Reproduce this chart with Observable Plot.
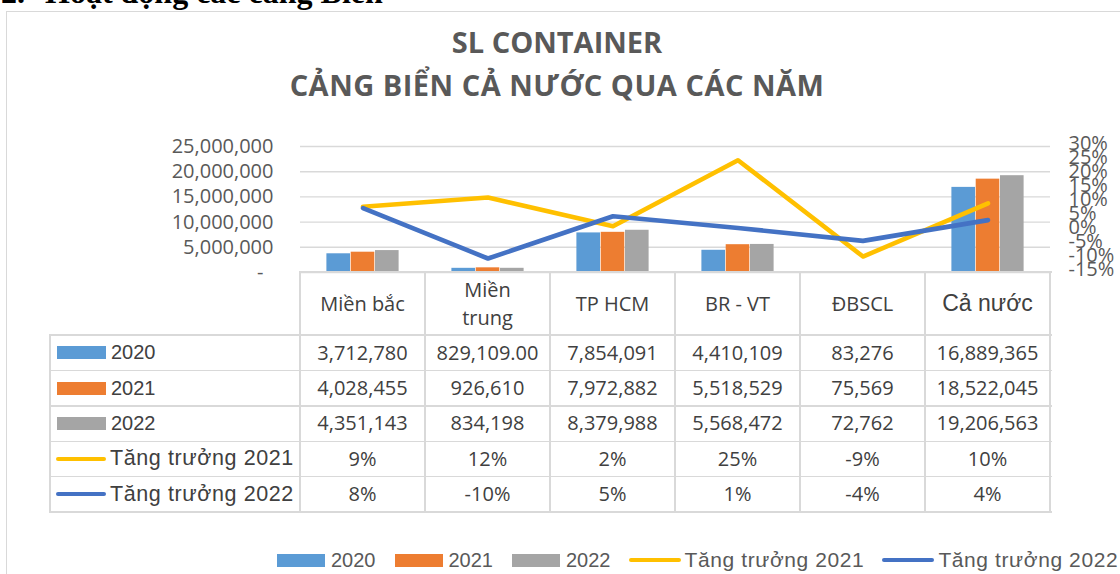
<!DOCTYPE html>
<html>
<head>
<meta charset="utf-8">
<script src="https://cdn.jsdelivr.net/npm/d3@7"></script>
<script src="https://cdn.jsdelivr.net/npm/@observablehq/plot@0.6"></script>
<style>
  html, body { margin: 0; padding: 0; background: #fff; }
  body { width: 1120px; height: 574px; overflow: hidden; position: relative; }
  #heading { position: absolute; left: 1px; top: -24px; font: bold 32px/32px "Liberation Serif", serif; color: #000; white-space: nowrap; }
  #frame { position: absolute; left: 6px; top: 11px; width: 1300px; height: 800px; border: 1px solid #d9d9d9; box-sizing: border-box; }
  #title { position: absolute; left: 0; top: 20px; width: 1114px; text-align: center; font: bold 29px/43px "Open Sans", sans-serif; color: #595959; white-space: nowrap; }
  #title .l2 { letter-spacing: 0.5px; }
  #chart { position: absolute; left: 0; top: 120px; }
  #chart svg { overflow: visible; }
  .hl { position: absolute; height: 1.5px; background: #d9d9d9; }
  .vl { position: absolute; width: 1.5px; background: #d9d9d9; }
  .cell { position: absolute; display: flex; align-items: center; justify-content: center; text-align: center; font: 20px/28px "Open Sans", sans-serif; color: #404040; white-space: nowrap; }
  .rowlab { position: absolute; display: flex; align-items: center; font: 20px "Liberation Sans", Arial, sans-serif; color: #404040; white-space: nowrap; }
  .sw { display: inline-block; width: 49px; height: 13px; margin-right: 5px; }
  .ln { display: inline-block; width: 50px; height: 4px; border-radius: 2px; margin-left: -1px; margin-right: 4px; }
  .big { font-size: 21.5px; letter-spacing: 0.6px; }
  #legend { position: absolute; left: 277px; top: 548px; height: 24px; display: flex; align-items: center; font: 20px "Liberation Sans", Arial, sans-serif; color: #595959; white-space: nowrap; }
  #legend .item { display: flex; align-items: center; margin-right: 19px; }
</style>
</head>
<body>
<div id="heading"><span>2.</span><span style="position:absolute;left:44px">Hoạt động các cảng Biển</span></div>
<div id="frame"></div>
<div id="title">SL CONTAINER<br><span class="l2">CẢNG BIỂN CẢ NƯỚC QUA CÁC NĂM</span></div>
<div id="chart"></div>
<div id="table"></div>
<div id="legend"></div>
<script>
// ---- data ----
const categories = ["Miền bắc", "Miền trung", "TP HCM", "BR - VT", "ĐBSCL", "Cả nước"];
const categoryLabels = ["Miền bắc", "Miền\ntrung", "TP HCM", "BR - VT", "ĐBSCL", "Cả nước"];
const years = ["2020", "2021", "2022"];
const values2020 = [3712780, 829109, 7854091, 4410109, 83276, 16889365];
const values2021 = [4028455, 926610, 7972882, 5518529, 75569, 18522045];
const values2022 = [4351143, 834198, 8379988, 5568472, 72762, 19206563];
const format2020 = [",", ",.2f", ",", ",", ",", ","];
const growthNames = ["Tăng trưởng 2021", "Tăng trưởng 2022"];
const growth2021 = [0.085, 0.118, 0.015, 0.251, -0.093, 0.097];
const growth2022 = [0.080, -0.100, 0.051, 0.009, -0.037, 0.037];
const leftTicks = [0, 5000000, 10000000, 15000000, 20000000, 25000000];
const rightTicks = [-0.15, -0.10, -0.05, 0, 0.05, 0.10, 0.15, 0.20, 0.25, 0.30];

const barColors = ["#5b9bd5", "#ed7d31", "#a5a5a5"];
const lineColors = ["#ffc000", "#4472c4"];

// secondary axis (-15%..30%) mapped onto primary (0..25M)
const pMin = -0.15, pMax = 0.30, vMax = 25000000;
const toPrimary = p => (p - pMin) / (pMax - pMin) * vMax;
const fromPrimary = v => v / vMax * (pMax - pMin) + pMin;

const series = [values2020, values2021, values2022];
const growth = [growth2021, growth2022];

const barData = years.map((yr, j) => categories.map((c, i) => ({category: c, year: yr, value: series[j][i]})));
const lineData = growth.map((g, j) => categories.map((c, i) => ({category: c, name: growthNames[j], g: g[i]})));

const step = 24.3, barW = 23.6;
const fmt = d3.format(",");

const chart = Plot.plot({
  width: 1120,
  height: 160,
  marginTop: 26,
  marginBottom: 8,
  marginLeft: 300,
  marginRight: 70,
  x: {domain: categories, padding: 0, axis: null},
  y: {domain: [0, vMax], axis: null},
  style: {fontFamily: "'Open Sans', sans-serif", fontSize: "20px", color: "#595959", background: "transparent"},
  marks: [
    Plot.ruleY(leftTicks, {stroke: "#d9d9d9", strokeWidth: 1.4}),
    Plot.axisY(leftTicks, {anchor: "left", label: null, tickSize: 0, tickPadding: 27, fontSize: 20,
      tickFormat: d => d === 0 ? "-\u2002" : fmt(d)}),
    Plot.axisY(rightTicks.map(toPrimary), {anchor: "right", label: null, tickSize: 0, tickPadding: 18, fontSize: 20, dy: -3,
      tickFormat: v => Math.round(fromPrimary(v) * 100) + "%"}),
    ...barData.map((rows, j) => Plot.barY(rows, {
      x: "category", y: "value", fill: barColors[j],
      insetLeft: (125 - barW) / 2, insetRight: (125 - barW) / 2, dx: (j - 1) * step
    })),
    ...lineData.map((rows, j) => Plot.line(rows, {
      x: "category", y: d => toPrimary(d.g), stroke: lineColors[j], strokeWidth: 4.6,
      strokeLinecap: "round", strokeLinejoin: "round"
    }))
  ]
});
document.getElementById("chart").appendChild(chart);

// ---- data table aligned on the chart's x scale ----
const xs = chart.scale("x");
const ysc = chart.scale("y");
const chartTop = 120;
const axisY = chartTop + ysc.apply(0);
const bw = xs.bandwidth;
const colLeft = categories.map(c => xs.apply(c));
const plotLeft = colLeft[0], plotRight = colLeft[5] + bw;
const tableLeft = 50;
const headerBottom = 335;
const rowH = 35.4;
const nRows = 5;
const tableBottom = headerBottom + rowH * nRows;
const T = document.getElementById("table");
function add(cls, css, html) {
  const d = document.createElement("div");
  d.className = cls;
  Object.assign(d.style, css);
  if (html != null) d.innerHTML = html;
  T.appendChild(d);
  return d;
}
add("hl", {left: plotLeft + "px", top: (axisY - 0.7) + "px", width: (plotRight - plotLeft + 1.5) + "px"});
for (let r = 0; r <= nRows; r++) {
  const y = headerBottom + r * rowH;
  add("hl", {left: tableLeft + "px", top: (y - 0.7) + "px", width: (plotRight - tableLeft + 1.5) + "px"});
}
add("vl", {left: (tableLeft - 0.7) + "px", top: (headerBottom - 0.7) + "px", height: (tableBottom - headerBottom + 1.5) + "px"});
for (let i = 0; i <= categories.length; i++) {
  const x = plotLeft + i * bw;
  add("vl", {left: (x - 0.7) + "px", top: (axisY - 0.7) + "px", height: (tableBottom - axisY + 1.5) + "px"});
}
categories.forEach((c, i) => {
  const lab = categoryLabels[i].replace("\n", "<br>");
  const extra = c === "Cả nước" ? {font: "23px 'Liberation Sans', Arial, sans-serif"} : {};
  add("cell", Object.assign({left: colLeft[i] + "px", top: axisY + "px", width: bw + "px", height: (headerBottom - axisY) + "px"}, extra), lab);
});
const rowDefs = [
  ...years.map((yr, j) => ({label: yr, kind: "bar", color: barColors[j],
    texts: series[j].map((v, i) => j === 0 ? d3.format(format2020[i])(v) : fmt(v))})),
  ...growth.map((g, j) => ({label: growthNames[j], kind: "line", color: lineColors[j],
    texts: g.map(v => Math.round(v * 100) + "%")}))
];
rowDefs.forEach((row, r) => {
  const top = headerBottom + r * rowH;
  const sw = row.kind === "bar"
    ? `<span class="sw" style="background:${row.color}"></span><span>${row.label}</span>`
    : `<span class="ln" style="background:${row.color}"></span><span class="big">${row.label}</span>`;
  add("rowlab", {left: (tableLeft + 7) + "px", top: top + "px", height: rowH + "px"}, sw);
  row.texts.forEach((t, i) => {
    add("cell", {left: colLeft[i] + "px", top: top + "px", width: bw + "px", height: rowH + "px"}, t);
  });
});

// ---- legend ----
const L = document.getElementById("legend");
years.forEach((yr, j) => {
  L.insertAdjacentHTML("beforeend", `<div class="item"><span class="sw" style="background:${barColors[j]};width:48px;margin-right:6px"></span><span>${yr}</span></div>`);
});
growthNames.forEach((n, j) => {
  L.insertAdjacentHTML("beforeend", `<div class="item"><span class="ln" style="background:${lineColors[j]};width:52px"></span><span class="big" style="font-size:21px">${n}</span></div>`);
});
</script>
</body>
</html>
